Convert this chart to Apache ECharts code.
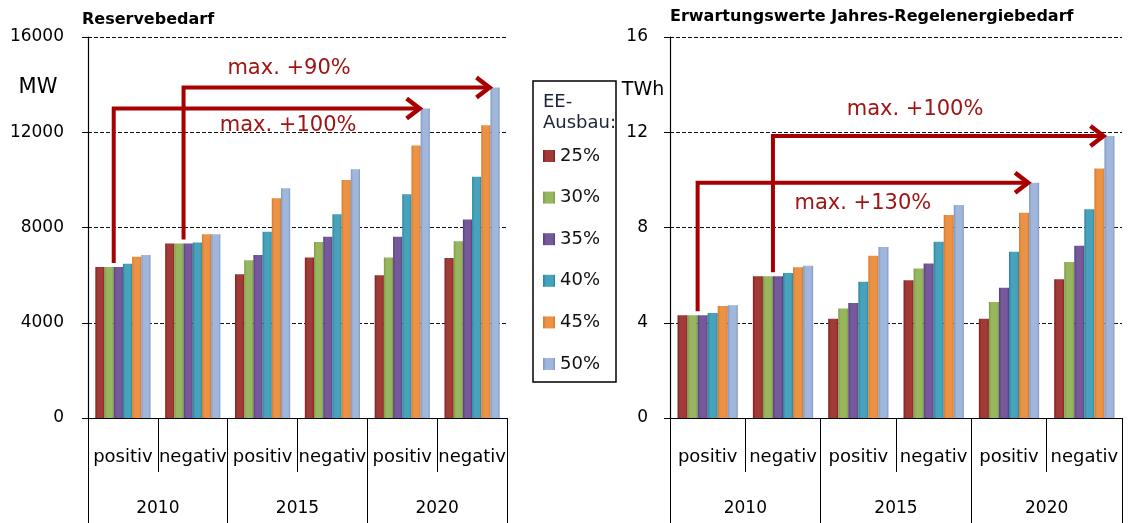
<!DOCTYPE html>
<html>
<head>
<meta charset="utf-8">
<script src="https://cdn.jsdelivr.net/npm/echarts/dist/echarts.min.js"></script>
<style>
  html, body { margin: 0; padding: 0; background: #fff; }
  #chart { width: 1129px; height: 523px; }
</style>
</head>
<body>
<div id="chart"></div>
<script>
const categories = ['positiv', 'negativ', 'positiv', 'negativ', 'positiv', 'negativ'];
const years = ['2010', '2015', '2020'];
const shares = ['25%', '30%', '35%', '40%', '45%', '50%'];
const reserveTicks = [0, 4000, 8000, 12000, 16000];
const energyTicks = [0, 4, 8, 12, 16];

// Reservebedarf (MW), one array per EE-Ausbau level
const reserve25 = [6340, 7330, 6040, 6740, 5990, 6720];
const reserve30 = [6340, 7330, 6620, 7390, 6740, 7420];
const reserve35 = [6340, 7330, 6840, 7610, 7610, 8340];
const reserve40 = [6480, 7370, 7820, 8560, 9400, 10130];
const reserve45 = [6770, 7720, 9230, 9990, 11440, 12290];
const reserve50 = [6840, 7720, 9650, 10450, 13000, 13880];

// Erwartungswerte Jahres-Regelenergiebedarf (TWh)
const energy25 = [4.32, 5.95, 4.17, 5.79, 4.17, 5.83];
const energy30 = [4.32, 5.95, 4.60, 6.28, 4.87, 6.55];
const energy35 = [4.32, 5.95, 4.83, 6.49, 5.47, 7.23];
const energy40 = [4.41, 6.09, 5.72, 7.40, 6.98, 8.77];
const energy45 = [4.70, 6.33, 6.81, 8.52, 8.62, 10.48];
const energy50 = [4.73, 6.39, 7.18, 8.94, 9.88, 11.84];

const reserveData = [reserve25, reserve30, reserve35, reserve40, reserve45, reserve50];
const energyData = [energy25, energy30, energy35, energy40, energy45, energy50];

// edge / face per series
const barColors = [
  ['#7a2220', '#a23a38'],
  ['#7d9a45', '#98b65e'],
  ['#553f7c', '#76599b'],
  ['#2c849c', '#47a2bb'],
  ['#d57a2c', '#ec9244'],
  ['#8197c2', '#a0b6db'],
];

const FONT = 'DejaVu Sans';
const ARROW = '#a80000';

function barFill(c) {
  return new echarts.graphic.LinearGradient(0, 0, 1, 0, [
    { offset: 0, color: c[0] },
    { offset: 0.25, color: c[1] },
    { offset: 0.8, color: c[1] },
    { offset: 1, color: c[0] },
  ]);
}

function makeAxes(gridIndex, ticks, margin) {
  const x = [
    {
      type: 'category', gridIndex, data: categories, position: 'bottom',
      axisLine: { show: true, lineStyle: { color: '#000', width: 1.2 } },
      axisTick: { show: true, interval: 0, length: 54, lineStyle: { color: '#000', width: 1 } },
      axisLabel: { interval: 0, margin: 30, color: '#000', fontFamily: FONT, fontSize: 18 },
    },
    {
      type: 'category', gridIndex, data: years, position: 'bottom',
      axisLine: { show: false },
      axisTick: { show: true, interval: 0, length: 105, lineStyle: { color: '#000', width: 1 } },
      axisLabel: { interval: 0, margin: 82, color: '#000', fontFamily: FONT, fontSize: 17 },
    },
  ];
  const y = {
    type: 'value', gridIndex,
    min: ticks[0], max: ticks[ticks.length - 1], interval: ticks[1] - ticks[0],
    axisLine: { show: true, lineStyle: { color: '#000', width: 1.2 } },
    axisTick: { show: true, length: 6, lineStyle: { color: '#000' } },
    axisLabel: {
      margin: margin, color: '#000', fontFamily: FONT, fontSize: 17,
      formatter: v => String(v),
    },
    splitLine: { show: true, lineStyle: { color: '#111', type: [4, 2], width: 1 } },
  };
  return { x, y };
}

const left = makeAxes(0, reserveTicks, 24);
const right = makeAxes(1, energyTicks, 22);

const series = [];
reserveData.forEach((vals, i) => {
  series.push({
    name: shares[i], type: 'bar', xAxisIndex: 0, yAxisIndex: 0,
    data: vals, barGap: '0%', barCategoryGap: '21%',
    itemStyle: { color: barFill(barColors[i]) },
  });
});
energyData.forEach((vals, i) => {
  series.push({
    name: shares[i], type: 'bar', xAxisIndex: 2, yAxisIndex: 1,
    data: vals, barGap: '0%', barCategoryGap: '20%',
    itemStyle: { color: barFill(barColors[i]) },
  });
});

const chart = echarts.init(document.getElementById('chart'));
chart.setOption({
  animation: false,
  backgroundColor: '#fff',
  grid: [
    { left: 88, right: 622, top: 37, bottom: 105 },
    { left: 670, right: 7, top: 37, bottom: 105 },
  ],
  xAxis: [...left.x, ...right.x],
  yAxis: [left.y, right.y],
  legend: {
    orient: 'vertical', left: 543, top: 147, padding: 0,
    data: shares, icon: 'rect', itemWidth: 12, itemHeight: 12, itemGap: 23.6,
    selectedMode: false,
    textStyle: { fontFamily: FONT, fontSize: 18, lineHeight: 18, color: '#111' },
  },
  series,
});

// arrows: from purple bar (35%) of one group to blue bar (50%) of another
const arrows = [
  { s: 0, fromCat: 0, toCat: 4, text: 'max. +100%', dy: 17, at: 0.57 },
  { s: 0, fromCat: 1, toCat: 5, text: 'max. +90%', dy: -19, at: 0.345 },
  { s: 6, fromCat: 0, toCat: 4, text: 'max. +130%', dy: 21, at: 0.5 },
  { s: 6, fromCat: 1, toCat: 5, text: 'max. +100%', dy: -27, at: 0.43 },
];

function barRect(seriesIndex, dataIndex) {
  const l = chart.getModel().getSeriesByIndex(seriesIndex).getData().getItemLayout(dataIndex);
  return { left: l.x, right: l.x + l.width, top: Math.min(l.y, l.y + l.height) };
}

const graphics = [];
arrows.forEach(a => {
  const from = barRect(a.s + 2, a.fromCat);
  const to = barRect(a.s + 5, a.toCat);
  const fx = from.left, fy = from.top - 4;
  const ty = to.top, tx = to.left - 1;
  graphics.push({
    type: 'polyline', z: 10,
    shape: { points: [[fx, fy], [fx, ty], [tx, ty]] },
    style: { stroke: ARROW, lineWidth: 4, fill: null, lineJoin: 'miter', lineCap: 'butt' },
  });
  graphics.push({
    type: 'polyline', z: 10,
    shape: { points: [[tx - 13, ty - 10], [tx, ty], [tx - 13, ty + 10]] },
    style: { stroke: ARROW, lineWidth: 4.5, fill: null, lineJoin: 'miter' },
  });
  graphics.push({
    type: 'text', z: 11,
    style: {
      text: a.text, x: fx + (tx - fx) * a.at, y: ty + a.dy,
      font: '21px "DejaVu Sans"', fill: '#a01414',
      textAlign: 'center', textVerticalAlign: 'middle',
    },
  });
});

// titles, units, legend frame
const texts = [
  { text: 'Reservebedarf', x: 82, y: 20, font: 'bold 16px "DejaVu Sans"', align: 'left' },
  { text: 'Erwartungswerte Jahres-Regelenergiebedarf', x: 670, y: 17, font: 'bold 16px "DejaVu Sans"', align: 'left' },
  { text: 'MW', x: 38, y: 88, font: '21px "DejaVu Sans"', align: 'center' },
  { text: 'TWh', x: 643, y: 90, font: '19px "DejaVu Sans"', align: 'center' },
  { text: 'EE-', x: 543, y: 102, font: '18px "DejaVu Sans"', align: 'left', fill: '#1c2438' },
  { text: 'Ausbau:', x: 543, y: 123, font: '18px "DejaVu Sans"', align: 'left', fill: '#1c2438' },
];
texts.forEach(t => {
  graphics.push({
    type: 'text', z: 11,
    style: {
      text: t.text, x: t.x, y: t.y, font: t.font, fill: t.fill || '#000',
      textAlign: t.align, textVerticalAlign: 'middle',
    },
  });
});
graphics.push({
  type: 'rect', z: 9,
  shape: { x: 533, y: 81, width: 83, height: 301 },
  style: { fill: null, stroke: '#000', lineWidth: 1.5 },
});

chart.setOption({ graphic: graphics });
</script>
</body>
</html>
